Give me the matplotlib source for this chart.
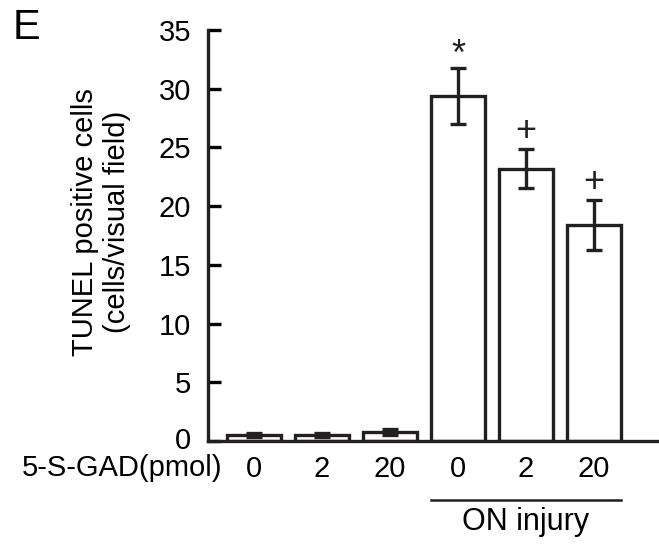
import matplotlib.pyplot as plt
import matplotlib.transforms as mtransforms

plt.rcParams['font.family'] = ['Liberation Sans', 'DejaVu Sans']

doses = ['0', '2', '20', '0', '2', '20']
tunel = [0.5, 0.5, 0.8, 29.4, 23.2, 18.4]
err = [0.2, 0.2, 0.25, 2.4, 1.65, 2.1]
marks = ['', '', '', '*', '+', '+']

fig = plt.figure(figsize=(6.59, 5.44), dpi=100)
ax = fig.add_axes([208 / 659, 1 - 441 / 544, 1 - 208 / 659, (441 - 30) / 544])

pos = list(range(len(tunel)))
ax.bar(pos, tunel, width=0.8, color='white', edgecolor='#231f20', linewidth=2.4,
       yerr=err, error_kw=dict(ecolor='#231f20', elinewidth=2.4, capsize=6, capthick=2.4))

for p, v, e, m in zip(pos, tunel, err, marks):
    if m == '*':
        ax.text(p, v + e + 1.0, m, ha='center', va='center', fontsize=26, color='#231f20')
    elif m:
        ax.text(p, v + e + 1.5, m, ha='center', va='center', fontsize=26, color='#231f20')

ax.set_xlim(-0.68, 5.96)
ax.set_ylim(0, 35)
ax.set_yticks(range(0, 36, 5))
ax.set_xticks(pos)
ax.set_xticklabels(doses)
ax.tick_params(axis='y', direction='in', length=9, width=2.4, labelsize=21, pad=12)
ax.tick_params(axis='x', length=0, labelsize=21, pad=10)
for s in ['top', 'right']:
    ax.spines[s].set_visible(False)
for s in ['left', 'bottom']:
    ax.spines[s].set_linewidth(2.4)
    ax.spines[s].set_color('#231f20')

# nudge the lowest y tick label up a little, as in the reference
lab0 = ax.get_yticklabels()[0]
lab0.set_transform(lab0.get_transform() + mtransforms.ScaledTranslation(0, 3 / 100, fig.dpi_scale_trans))

fig.text(101 / 659, 1 - 222 / 544, 'TUNEL positive cells\n(cells/visual field)', fontsize=21,
         rotation=90, ha='center', va='center', linespacing=1.15)
fig.text(22 / 659, 1 - 476 / 544, '5-S-GAD(pmol)', fontsize=21, va='baseline', ha='left')
fig.text(13 / 659, 1 - 28 / 544, 'E', fontsize=30, va='center', ha='left')

ax.plot([2.6, 5.4], [-5.0, -5.0], color='#231f20', linewidth=1.8, clip_on=False)
ax.text(4.0, -6.9, 'ON injury', ha='center', va='center', fontsize=22)

fig.savefig('out.png', dpi=100)
